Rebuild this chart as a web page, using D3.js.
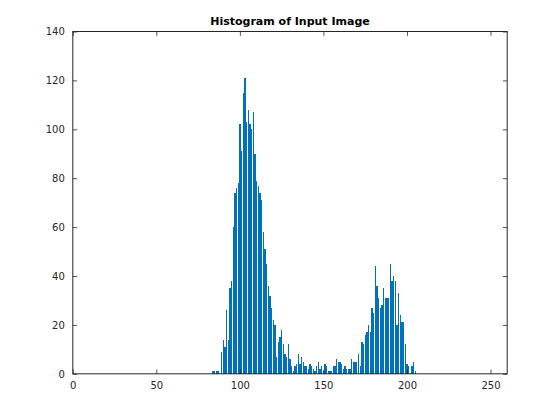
<!DOCTYPE html>
<html>
<head>
<meta charset="utf-8">
<script src="https://cdn.jsdelivr.net/npm/d3@7"></script>
<style>
  html, body { margin: 0; padding: 0; background: #ffffff; }
  svg { display: block; }
</style>
</head>
<body>
<svg id="chart" width="560" height="420"></svg>
<script>
// ---- data ----
const chartTitle = "Histogram of Input Image";
const firstLevel = 84; // grey level of the first listed bin
const binCounts = [
  1, 1, 1, 1, 0, 9, 14, 11, 26, 14,          // 84-93
  35, 38, 60, 74, 76, 78, 102, 91, 115, 121, // 94-103
  103, 108, 102, 100, 107, 90, 79, 77, 74, 71, // 104-113
  58, 51, 45, 36, 32, 27, 22, 20, 7, 13,      // 114-123
  15, 18, 12, 8, 7, 12, 6, 3, 1, 3,           // 124-133
  4, 8, 4, 7, 5, 3, 3, 2, 4, 3,               // 134-143
  2, 1, 3, 5, 2, 3, 1, 4, 3, 1,               // 144-153
  1, 1, 3, 3, 6, 5, 5, 4, 2, 3,               // 154-163
  2, 2, 2, 6, 5, 5, 5, 8, 3, 13,              // 164-173
  12, 16, 17, 20, 17, 27, 25, 44, 36, 31,     // 174-183
  27, 28, 35, 31, 31, 31, 45, 38, 40, 38,     // 184-193
  20, 33, 24, 21, 21, 12, 4, 3, 0, 3,         // 194-203
  5, 1                                        // 204-205
];
const xTicks = [0, 50, 100, 150, 200, 250];
const yTicks = [0, 20, 40, 60, 80, 100, 120, 140];
const xDomain = [0, 260];
const yDomain = [0, 140];

const bars = binCounts.map((c, i) => ({ level: firstLevel + i, count: c }));

// ---- layout ----
const svg = d3.select("#chart");
const W = 560, H = 420;
const m = { left: 72.8, top: 31.5, right: W - 507.2, bottom: H - 373.8 };
const iw = W - m.left - m.right, ih = H - m.top - m.bottom;
const axisColor = "#262626";
const barColor = "#0072BD";
const font = "'DejaVu Sans', sans-serif";

const x = d3.scaleLinear().domain(xDomain).range([m.left, m.left + iw]);
const y = d3.scaleLinear().domain(yDomain).range([m.top + ih, m.top]);
const binW = x(1) - x(0);
const barW = binW * 0.8;

svg.append("rect").attr("x", 0).attr("y", 0).attr("width", W).attr("height", H).attr("fill", "#fff");

// bars
svg.append("g").attr("shape-rendering", "crispEdges")
  .selectAll("rect").data(bars.filter(d => d.count > 0)).join("rect")
  .attr("x", d => x(d.level) - barW / 2)
  .attr("width", barW)
  .attr("y", d => y(d.count))
  .attr("height", d => y(0) - y(d.count))
  .attr("fill", barColor);

const tickLen = 4.3;
// axes with inward ticks
const gx = svg.append("g").attr("transform", `translate(0,${m.top + ih})`)
  .call(d3.axisBottom(x).tickValues(xTicks).tickSizeInner(-tickLen).tickSizeOuter(0).tickPadding(8));
const gxTop = svg.append("g").attr("transform", `translate(0,${m.top})`)
  .call(d3.axisTop(x).tickValues(xTicks).tickSizeInner(-tickLen).tickSizeOuter(0).tickFormat(""));
const gy = svg.append("g").attr("transform", `translate(${m.left},0)`)
  .call(d3.axisLeft(y).tickValues(yTicks).tickSizeInner(-tickLen).tickSizeOuter(0).tickPadding(8));
const gyR = svg.append("g").attr("transform", `translate(${m.left + iw},0)`)
  .call(d3.axisRight(y).tickValues(yTicks).tickSizeInner(-tickLen).tickSizeOuter(0).tickFormat(""));

[gx, gxTop, gy, gyR].forEach(g => {
  g.select(".domain").remove();
  g.selectAll(".tick line").attr("stroke", axisColor).attr("stroke-width", 0.8);
  g.selectAll("text").attr("fill", axisColor).style("font-family", font).style("font-size", "10px");
});

// box
svg.append("rect")
  .attr("x", m.left).attr("y", m.top).attr("width", iw).attr("height", ih)
  .attr("fill", "none").attr("stroke", axisColor).attr("stroke-width", 1);

// title
svg.append("text")
  .attr("x", m.left + iw / 2).attr("y", 25)
  .attr("text-anchor", "middle")
  .style("font-family", font).style("font-size", "11px").style("font-weight", "bold")
  .attr("fill", "#000")
  .text(chartTitle);
</script>
</body>
</html>
